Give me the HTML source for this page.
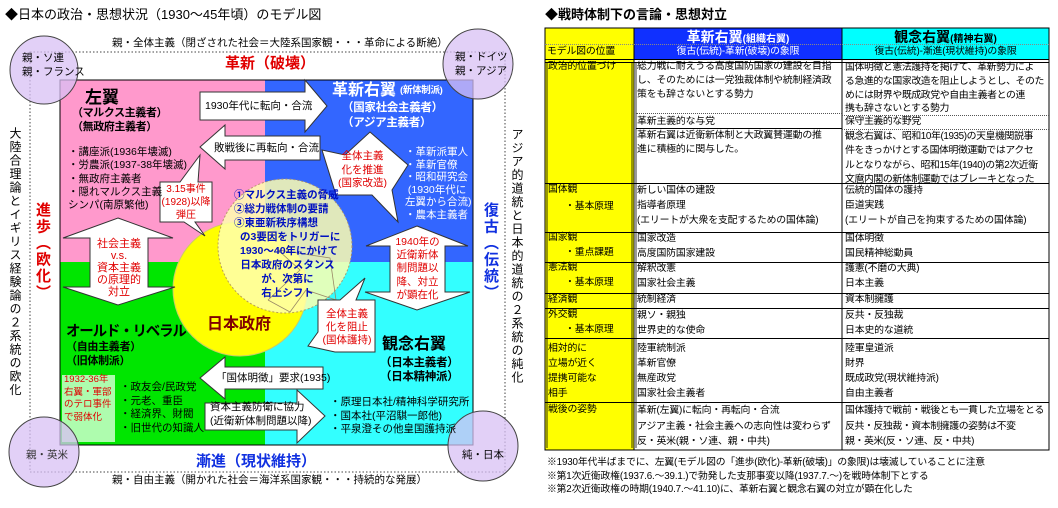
<!DOCTYPE html>
<html><head><meta charset="utf-8">
<style>
*{margin:0;padding:0;box-sizing:border-box}
body{width:1058px;height:508px;background:#fff;position:relative;overflow:hidden;font-family:"Liberation Sans","Noto Sans CJK JP",sans-serif;color:#000}
.t{position:absolute;white-space:nowrap;line-height:14px;font-size:11px}
.v{position:absolute;writing-mode:vertical-rl;font-size:12px;line-height:16px;letter-spacing:1.5px;white-space:nowrap}
.r{color:#e00000}
.w{color:#fff}
.b{font-weight:bold}
.tb{position:absolute;white-space:nowrap;line-height:14px;font-size:9.9px;letter-spacing:-0.15px}
.c3{letter-spacing:-0.4px}
.hl{position:absolute;height:0;border-top:1px solid #000}
.dl{position:absolute;height:0;border-top:1px dotted #555}
</style></head><body>

<svg width="1058" height="508" style="position:absolute;left:0;top:0">
<rect x="30" y="52" width="475" height="420" fill="none" stroke="#444" stroke-dasharray="1.5,2"/>
<rect x="60" y="80" width="205" height="182" fill="#ff99cc"/>
<rect x="265" y="80" width="208" height="182" fill="#3366ff"/>
<rect x="60" y="262" width="205" height="183" fill="#00e600"/>
<rect x="265" y="262" width="208" height="183" fill="#33ffff"/>
<rect x="60" y="80" width="413" height="365" fill="none" stroke="#000" stroke-width="1"/>
<rect x="62" y="375" width="53" height="67" fill="#ccffcc" opacity="0.85"/>
<circle cx="240" cy="289" r="67" fill="#ffff00" stroke="#cccc66"/>
<circle cx="285" cy="246" r="67" fill="#ffffb0" opacity="0.85" stroke="#b09060" stroke-dasharray="2,2"/>
<polyline points="268,300 300,270 278,250 330,258 336,300 306,290 290,312 268,300" fill="none" stroke="#998866" stroke-width="0.8"/>
<polygon points="200,92 305,92 305,80 327,106 305,132 305,120 200,120" fill="#fff" stroke="#333"/>
<polygon points="200,147 225,125 225,136 320,136 320,160 225,160 225,169" fill="#fff" stroke="#333"/>
<polygon points="118,218 173,238 148,238 148,287 175,287 118,305 63,287 90,287 90,238 63,238" fill="#fff" stroke="#333"/>
<polygon points="417,226 468,246 445,246 445,292 470,292 417,310 365,292 390,292 390,246 366,246" fill="#fff" stroke="#333"/>
<polygon points="200,378 225,357 225,367 323,367 323,389 225,389 225,399" fill="#fff" stroke="#333"/>
<polygon points="205,403 297,403 297,390 325,416 297,443 297,430 205,430" fill="#fff" stroke="#333"/>
<polygon points="160,182 180,182 200,155 198,182 212,182 212,222 195,222 205,236 184,222 160,222" fill="#fff" stroke="#333"/>
<polygon points="370,132 408,165 392,190 398,222 372,195 336,195 322,150 345,155" fill="#fff" stroke="#333"/>
<polygon points="365,278 356,300 375,300 375,352 335,352 308,346 318,332 318,300 340,300" fill="#fff" stroke="#333"/>
<g fill="#d8c0f4" fill-opacity="0.75" stroke="#444">
<circle cx="44" cy="70" r="34"/>
<circle cx="478" cy="64" r="35"/>
<circle cx="44" cy="452" r="35"/>
<circle cx="483" cy="446" r="35"/>
</g>
<rect x="545" y="28" width="89" height="422" fill="#ffff00" stroke="#000"/>
<rect x="634" y="28" width="208" height="31" fill="#1030ff"/>
<rect x="842" y="28" width="207" height="31" fill="#00ffff"/>
<rect x="634" y="28" width="415" height="422" fill="none" stroke="#000"/>
<line x1="842" y1="28" x2="842" y2="450" stroke="#000"/>
<line x1="634" y1="28" x2="634" y2="450" stroke="#000"/>
<line x1="547" y1="62" x2="547" y2="448" stroke="#000" stroke-width="0.8"/>
<line x1="632" y1="62" x2="632" y2="448" stroke="#000" stroke-width="0.8"/>
<line x1="636" y1="62" x2="636" y2="448" stroke="#000" stroke-width="0.8"/>
</svg>

<div class="t" style="left:5px;top:7px;font-size:13px;line-height:16px">◆日本の政治・思想状況（1930～45年頃）のモデル図</div>
<div class="t" style="left:112px;top:36px;font-size:10.5px">親・全体主義（閉ざされた社会＝大陸系国家観・・・革命による断絶）</div>
<div class="t r b" style="left:225px;top:55px;font-size:15px;line-height:17px">革新（破壊）</div>
<div class="t b" style="left:196px;top:453px;font-size:15px;line-height:17px;color:#1030e0">漸進（現状維持）</div>
<div class="t" style="left:112px;top:473px;font-size:10.5px">親・自由主義（開かれた社会＝海洋系国家観・・・持続的な発展）</div>

<div class="t" style="left:22px;top:51px;font-size:10.5px">親・ソ連</div>
<div class="t" style="left:22px;top:65px;font-size:10.5px">親・フランス</div>
<div class="t" style="left:455px;top:50px;font-size:10.5px">親・ドイツ</div>
<div class="t" style="left:455px;top:64px;font-size:10.5px">親・アジア</div>
<div class="t" style="left:26px;top:448px;font-size:10.5px;color:#333">親・英米</div>
<div class="t" style="left:462px;top:448px;font-size:10.5px">純・日本</div>

<div class="v" style="left:7px;top:127px">大陸合理論とイギリス経験論の２系統の欧化</div>
<div class="v r b" style="left:33px;top:202px;font-size:15px;line-height:18px">進歩（欧化）</div>
<div class="v" style="left:509px;top:128px">アジア的道統と日本的道統の２系統の純化</div>
<div class="v b" style="left:481px;top:202px;font-size:15px;line-height:18px;color:#1030e0">復古（伝統）</div>

<div class="t b" style="left:85px;top:88px;font-size:17px;line-height:19px">左翼</div>
<div class="t b" style="left:72px;top:106px;font-size:11px;letter-spacing:-0.4px">（マルクス主義者）</div>
<div class="t b" style="left:72px;top:120px;font-size:11px;letter-spacing:-0.4px">（無政府主義者）</div>
<div class="t" style="left:68px;top:146px;font-size:10.5px;line-height:13.3px">・講座派(1936年壊滅)<br>・労農派(1937-38年壊滅)<br>・無政府主義者<br>・隠れマルクス主義<br>シンパ(南原繁他)</div>
<div class="t r" style="left:158px;top:183px;width:56px;text-align:center;font-size:10px;line-height:13px">3.15事件<br>(1928)以降<br>弾圧</div>
<div class="t" style="left:205px;top:99px;font-size:10.5px">1930年代に転向・合流</div>
<div class="t" style="left:214px;top:141px;font-size:10.5px">敗戦後に再転向・合流</div>
<div class="t r" style="left:90px;top:238px;width:58px;text-align:center;font-size:11px;line-height:12px">社会主義<br>v.s.<br>資本主義<br>の原理的<br>対立</div>

<div class="t b w" style="left:332px;top:82px;font-size:16px;line-height:18px">革新右翼</div>
<div class="t b w" style="left:400px;top:84px;font-size:9.5px;letter-spacing:-0.3px">(新体制派)</div>
<div class="t b w" style="left:342px;top:101px;font-size:11.5px;letter-spacing:-0.3px">（国家社会主義者）</div>
<div class="t b w" style="left:342px;top:116px;font-size:11.5px;letter-spacing:-0.3px">（アジア主義者）</div>
<div class="t r" style="left:335px;top:150px;width:55px;text-align:center;font-size:10.5px;line-height:13.5px">全体主義<br>化を推進<br>(国家改造)</div>
<div class="t w" style="left:405px;top:146px;font-size:10.5px;line-height:12.6px">・革新派軍人<br>・革新官僚<br>・昭和研究会<br>&nbsp;(1930年代に<br>左翼から合流)<br>・農本主義者</div>
<div class="t r" style="left:390px;top:236px;width:55px;text-align:center;font-size:10.5px;line-height:13.2px">1940年の<br>近衛新体<br>制問題以<br>降、対立<br>が顕在化</div>

<div class="t b" style="left:234px;top:188px;font-size:10.5px;line-height:14px;color:#0010c0">①マルクス主義の脅威<br>②総力戦体制の要請<br>③東亜新秩序構想</div>
<div class="t b" style="left:240px;top:230px;width:95px;text-align:center;font-size:10.5px;line-height:14px;color:#0010c0">の3要因をトリガーに<br>1930～40年にかけて<br>日本政府のスタンス<br>が、次第に<br>右上シフト</div>
<div class="t b" style="left:207px;top:316px;font-size:16px;line-height:18px;color:#800000">日本政府</div>

<div class="t b" style="left:66px;top:323px;font-size:14.5px;line-height:18px;letter-spacing:-1.2px">オールド・リベラル</div>
<div class="t b" style="left:66px;top:340px;font-size:11px;letter-spacing:-0.3px">（自由主義者）</div>
<div class="t b" style="left:66px;top:354px;font-size:11px;letter-spacing:-0.3px">（旧体制派）</div>
<div class="t r" style="left:64px;top:374px;font-size:9.5px;line-height:12.5px">1932-36年<br>右翼・軍部<br>のテロ事件<br>で弱体化</div>
<div class="t" style="left:120px;top:381px;font-size:10.5px;line-height:13.5px">・政友会/民政党<br>・元老、重臣<br>・経済界、財閥<br>・旧世代の知識人</div>
<div class="t" style="left:216px;top:371px;font-size:10.5px">「国体明徴」要求(1935)</div>
<div class="t" style="left:210px;top:401px;font-size:10.5px;line-height:13.5px">資本主義防衛に協力<br>(近衛新体制問題以降)</div>
<div class="t r" style="left:318px;top:308px;width:58px;text-align:center;font-size:10.5px;line-height:13px">全体主義<br>化を阻止<br>(国体護持)</div>
<div class="t b" style="left:382px;top:336px;font-size:16px;line-height:18px">観念右翼</div>
<div class="t b" style="left:380px;top:356px;font-size:11.5px;letter-spacing:-0.3px">（日本主義者）</div>
<div class="t b" style="left:380px;top:370px;font-size:11.5px;letter-spacing:-0.3px">（日本精神派）</div>
<div class="t" style="left:330px;top:396px;font-size:10.5px;line-height:13.5px">・原理日本社/精神科学研究所<br>・国本社(平沼騏一郎他)<br>・平泉澄その他皇国護持派</div>

<div class="t b" style="left:545px;top:7px;font-size:13px;line-height:16px">◆戦時体制下の言論・思想対立</div>
<div class="dl" style="left:545px;top:44px;width:504px;border-color:#888"></div>
<div class="tb" style="left:547px;top:45px">モデル図の位置</div>
<div class="t b w" style="left:634px;top:29px;width:208px;text-align:center;font-size:14px;line-height:16px">革新右翼<span style="font-size:10px">(組織右翼)</span></div>
<div class="tb w" style="left:634px;top:45px;width:208px;text-align:center">復古(伝統)-革新(破壊)の象限</div>
<div class="t b" style="left:842px;top:29px;width:207px;text-align:center;font-size:14px;line-height:16px">観念右翼<span style="font-size:10px">(精神右翼)</span></div>
<div class="tb" style="left:842px;top:45px;width:207px;text-align:center">復古(伝統)-漸進(現状維持)の象限</div>

<div class="hl" style="left:545px;top:59px;width:504px"></div>
<div class="hl" style="left:545px;top:62px;width:504px"></div>
<div class="hl" style="left:545px;top:183px;width:504px"></div>
<div class="hl" style="left:545px;top:232px;width:504px"></div>
<div class="hl" style="left:545px;top:262px;width:504px"></div>
<div class="hl" style="left:545px;top:293px;width:504px"></div>
<div class="hl" style="left:545px;top:308px;width:504px"></div>
<div class="hl" style="left:545px;top:338px;width:504px"></div>
<div class="hl" style="left:545px;top:402px;width:504px"></div>
<div class="dl" style="left:636px;top:113px;width:206px"></div>
<div class="hl" style="left:636px;top:128px;width:206px"></div>
<div class="dl" style="left:842px;top:115px;width:207px"></div>
<div class="dl" style="left:842px;top:129px;width:207px"></div>

<div class="tb" style="left:548px;top:60px">政治的位置づけ</div>
<div class="tb" style="left:548px;top:183px">国体観</div>
<div class="tb" style="left:565px;top:200px">・基本原理</div>
<div class="tb" style="left:548px;top:231px">国家観</div>
<div class="tb" style="left:565px;top:246px">・重点課題</div>
<div class="tb" style="left:548px;top:261px">憲法観</div>
<div class="tb" style="left:565px;top:276px">・基本原理</div>
<div class="tb" style="left:548px;top:293px">経済観</div>
<div class="tb" style="left:548px;top:308px">外交観</div>
<div class="tb" style="left:565px;top:323px">・基本原理</div>
<div class="tb" style="left:548px;top:341px;line-height:15px">相対的に<br>立場が近く<br>提携可能な<br>相手</div>
<div class="tb" style="left:548px;top:403px">戦後の姿勢</div>

<div class="tb" style="left:637px;top:60px">総力戦に耐えうる高度国防国家の建設を目指<br>し、そのためには一党独裁体制や統制経済政<br>策をも辞さないとする勢力</div>
<div class="tb" style="left:637px;top:115px">革新主義的な与党</div>
<div class="tb" style="left:637px;top:129px">革新右翼は近衛新体制と大政翼賛運動の推<br>進に積極的に関与した。</div>
<div class="tb" style="left:637px;top:183px;line-height:15px">新しい国体の建設<br>指導者原理<br>(エリートが大衆を支配するための国体論)</div>
<div class="tb" style="left:637px;top:231px;line-height:15px">国家改造<br>高度国防国家建設</div>
<div class="tb" style="left:637px;top:261px;line-height:15px">解釈改憲<br>国家社会主義</div>
<div class="tb" style="left:637px;top:293px">統制経済</div>
<div class="tb" style="left:637px;top:308px;line-height:15px">親ソ・親独<br>世界史的な使命</div>
<div class="tb" style="left:637px;top:341px;line-height:15px">陸軍統制派<br>革新官僚<br>無産政党<br>国家社会主義者</div>
<div class="tb" style="left:637px;top:403px;line-height:15.5px">革新(左翼)に転向・再転向・合流<br>アジア主義・社会主義への志向性は変わらず<br>反・英米(親・ソ連、親・中共)</div>

<div class="tb c3" style="left:845px;top:61px;line-height:13.8px">国体明徴と憲法護持を掲げて、革新勢力によ<br>る急進的な国家改造を阻止しようとし、そのた<br>めには財界や既成政党や自由主義者との連<br>携も辞さないとする勢力</div>
<div class="tb c3" style="left:845px;top:115px">保守主義的な野党</div>
<div class="tb c3" style="left:845px;top:130px;line-height:14.4px">観念右翼は、昭和10年(1935)の天皇機関説事<br>件をきっかけとする国体明徴運動ではアクセ<br>ルとなりながら、昭和15年(1940)の第2次近衛<br>文麿内閣の新体制運動ではブレーキとなった</div>
<div class="tb" style="left:845px;top:183px;line-height:15px">伝統的国体の護持<br>臣道実践<br>(エリートが自己を拘束するための国体論)</div>
<div class="tb" style="left:845px;top:231px;line-height:15px">国体明徴<br>国民精神総動員</div>
<div class="tb" style="left:845px;top:261px;line-height:15px">護憲(不磨の大典)<br>日本主義</div>
<div class="tb" style="left:845px;top:293px">資本制擁護</div>
<div class="tb" style="left:845px;top:308px;line-height:15px">反共・反独裁<br>日本史的な道統</div>
<div class="tb" style="left:845px;top:341px;line-height:15px">陸軍皇道派<br>財界<br>既成政党(現状維持派)<br>自由主義者</div>
<div class="tb c3" style="left:845px;top:403px;line-height:15.5px">国体護持で戦前・戦後とも一貫した立場をとる<br>反共・反独裁・資本制擁護の姿勢は不変<br>親・英米(反・ソ連、反・中共)</div>

<div class="tb" style="left:547px;top:456px;line-height:13.5px;font-size:9.8px">※1930年代半ばまでに、左翼(モデル図の「進歩(欧化)-革新(破壊)」の象限)は壊滅していることに注意<br>※第1次近衛政権(1937.6.～39.1.)で勃発した支那事変以降(1937.7.～)を戦時体制下とする<br>※第2次近衛政権の時期(1940.7.～41.10)に、革新右翼と観念右翼の対立が顕在化した</div>
</body></html>
